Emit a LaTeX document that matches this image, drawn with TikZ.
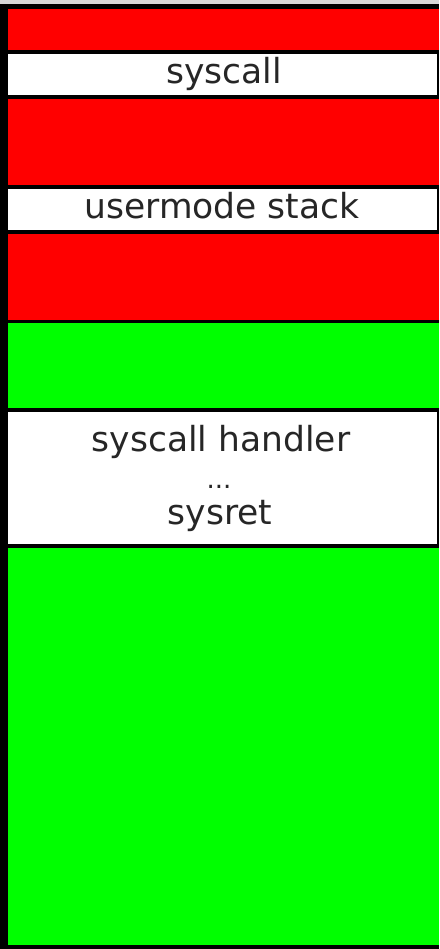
\documentclass[tikz,border=0pt]{standalone}
\usepackage{fontspec}
\setmainfont{DejaVu Sans}
\definecolor{memred}{RGB}{255,0,0}
\definecolor{memgreen}{RGB}{0,255,0}
\definecolor{topgray}{RGB}{215,215,215}
\begin{document}
\begin{tikzpicture}[x=1pt,y=-1pt,
  lbl/.style={anchor=base,inner sep=0pt,font=\fontsize{34.5}{40}\selectfont,text=black!85}]
\fill[black] (0,0) rectangle (439,949);
\useasboundingbox (0,0) rectangle (439,949);
\fill[topgray] (0,0) rectangle (439,4);
\fill[memred] (8,9) rectangle (439,50);
\fill[white] (8,54) rectangle (437,95);
\fill[memred] (8,99) rectangle (439,185);
\fill[white] (8,189) rectangle (437,230);
\fill[memred] (8,234) rectangle (439,320);
\fill[memgreen] (8,323) rectangle (439,408);
\fill[white] (8,412) rectangle (437,544);
\fill[memgreen] (8,548) rectangle (439,945);
\node[lbl] (sc) at (224,84) {syscall};
\node[lbl] (us) at (222,219) {usermode stack};
\node[lbl] (sh) at (221,451) {syscall handler};
\node[lbl,font=\fontsize{26}{30}\selectfont] (dots) at (219,488) {...};
\node[lbl] (sr) at (220,524) {sysret};
\end{tikzpicture}
\end{document}
